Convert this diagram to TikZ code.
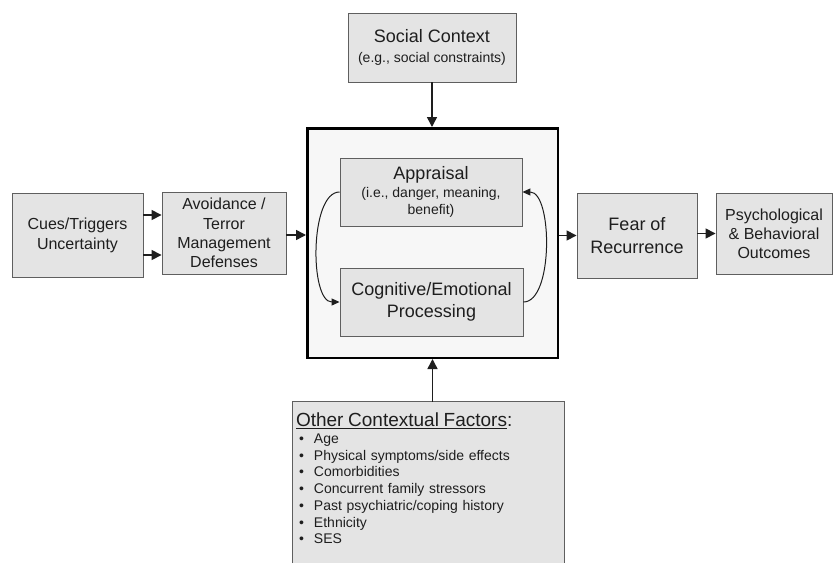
\documentclass[tikz,border=0pt]{standalone}
\usepackage{fontspec}
\setmainfont{Liberation Sans}
\usetikzlibrary{arrows.meta}
\definecolor{boxfill}{RGB}{228,228,228}
\definecolor{bigfill}{RGB}{247,247,247}
\definecolor{boxedge}{RGB}{95,95,95}
\definecolor{ink}{RGB}{30,30,30}
\newcommand{\fsz}[2]{\fontsize{#1}{#2}\selectfont}
\newcommand{\bul}{\hspace*{3pt}\makebox[15pt][l]{\textbullet}}
\begin{document}
\begin{tikzpicture}[x=1pt,y=-1pt,
  box/.style={draw=boxedge, line width=0.9pt, fill=boxfill, inner sep=0pt, align=center, text=ink},
  arr/.style={draw=ink, line width=1.5pt, -{Triangle[length=10pt,width=10pt]}},
  carr/.style={draw=ink, line width=1pt, -{Triangle[length=8pt,width=7pt]}}]
\useasboundingbox (0,0) rectangle (833,563);

% nodes
\node[box, minimum width=168pt, minimum height=69pt, font=\fsz{14}{20}] (social) at (432,47.5)
  {{\fsz{18}{20}Social Context}\\(e.g., social constraints)};
\node[draw=black, line width=2.5pt, fill=bigfill, minimum width=250.5pt, minimum height=229.5pt, inner sep=0pt] (big) at (432.5,243) {};
\node[box, minimum width=182pt, minimum height=68pt, font=\fsz{14}{17}] (appr) at (431,192)
  {{\fsz{18}{20}Appraisal}\\[1pt](i.e., danger, meaning,\\benefit)};
\node[box, minimum width=183pt, minimum height=68pt, font=\fsz{18}{22}] (cog) at (431.5,302)
  {Cognitive/Emotional\\Processing};
\node[box, minimum width=131pt, minimum height=84pt, font=\fsz{16}{20}] (cues) at (77.5,235)
  {Cues/Triggers\\Uncertainty};
\node[box, minimum width=124pt, minimum height=82pt, font=\fsz{16}{19.3}] (avoid) at (224,233)
  {Avoidance /\\Terror\\Management\\Defenses};
\node[box, minimum width=120pt, minimum height=85pt, font=\fsz{18}{23}] (fear) at (637,235.5)
  {Fear of\\Recurrence};
\node[box, minimum width=116pt, minimum height=81pt, font=\fsz{16}{19}] (psych) at (774,233.5)
  {Psychological\\\& Behavioral\\Outcomes};
\node[fill=boxfill, draw=none, minimum width=271pt, minimum height=161pt, inner xsep=3pt, inner ysep=0pt,
  text width=265pt, align=left, text=ink, font=\fsz{14}{16.7}] (other) at (428.5,482.5)
  {{\fsz{19}{21}\underline{Other Contextual Factors}:\par}
   \bul Age\\
   \bul Physical symptoms/side effects\\
   \bul Comorbidities\\
   \bul Concurrent family stressors\\
   \bul Past psychiatric/coping history\\
   \bul Ethnicity\\
   \bul SES\par\vspace*{8pt}};
\draw[draw=boxedge, line width=0.9pt] (other.south west) -- (other.north west) -- (other.north east) -- (other.south east);

% connectors
\draw[arr] (social.south) -- (social.south |- big.north);
\draw[arr] ([yshift=20pt]cues.east) -- ([yshift=20pt]cues.east -| avoid.west);
\draw[arr] ([yshift=-20pt]cues.east) -- ([yshift=-20pt]cues.east -| avoid.west);
\draw[arr] ([yshift=-2pt]avoid.east) -- ([yshift=-2pt]avoid.east -| big.west);
\draw[arr] (big.east |- fear.west) -- (fear.west);
\draw[arr] ([yshift=2pt]fear.east) -- ([yshift=2pt]fear.east -| psych.west);
\draw[arr] (other.north -| big.south) -- (big.south);
\draw[carr] (appr.west) to[out=180, in=180, looseness=0.7] (cog.west);
\draw[carr] (cog.east) to[out=0, in=0, looseness=0.7] (appr.east);
\end{tikzpicture}
\end{document}
